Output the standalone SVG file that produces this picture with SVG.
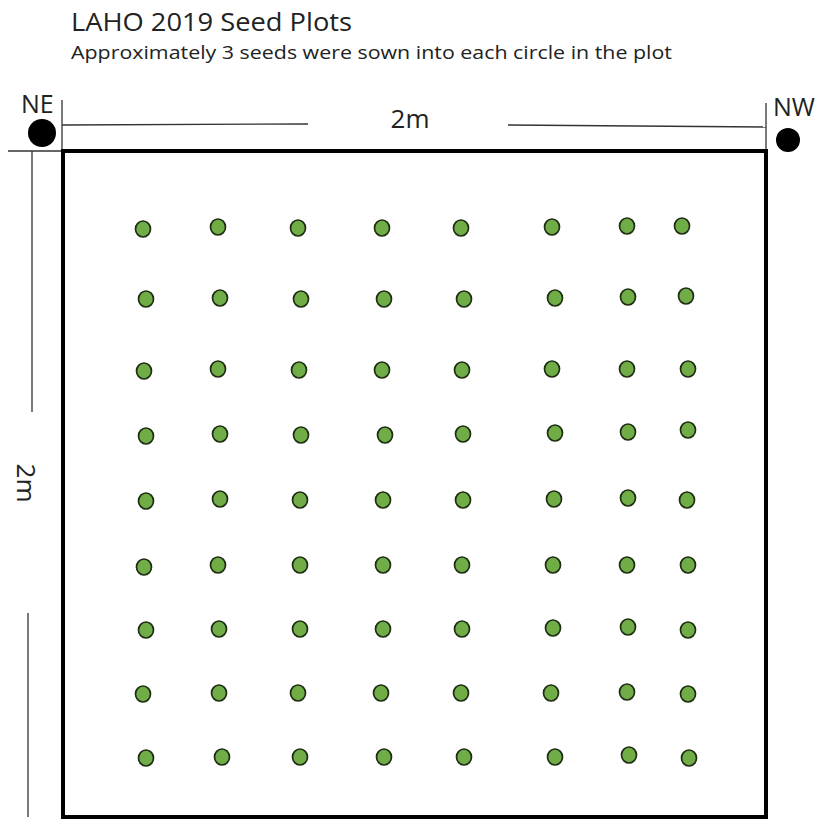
<svg xmlns="http://www.w3.org/2000/svg" width="820" height="820" viewBox="0 0 820 820">
<style>
.t{font-family:"Open Sans","Liberation Sans",sans-serif;fill:#222}
.ln{stroke:#333;stroke-width:1.3;fill:none}
.d{fill:#70ad47;stroke:#1f2d14;stroke-width:1.7}
</style>
<rect width="820" height="820" fill="#fff"/>
<text class="t" x="71" y="31" font-size="26" textLength="281" lengthAdjust="spacingAndGlyphs">LAHO 2019 Seed Plots</text>
<text class="t" x="71" y="59" font-size="18" textLength="601" lengthAdjust="spacingAndGlyphs">Approximately 3 seeds were sown into each circle in the plot</text>
<text class="t" x="21" y="113" font-size="25">NE</text>
<text class="t" x="773" y="116" font-size="25">NW</text>
<circle cx="42" cy="133" r="14" fill="#000"/>
<circle cx="788" cy="140" r="12" fill="#000"/>
<g class="ln">
<line x1="62" y1="100" x2="62" y2="150"/>
<line x1="62" y1="125" x2="308" y2="124"/>
<line x1="508" y1="125" x2="766" y2="127"/>
<line x1="766" y1="103" x2="766" y2="150"/>
<line x1="8" y1="151" x2="62" y2="151"/>
<line x1="32" y1="151" x2="32" y2="412"/>
<line x1="28" y1="613" x2="28" y2="817"/>
</g>
<text class="t" x="410" y="128" font-size="26" text-anchor="middle">2m</text>
<text class="t" font-size="26" text-anchor="middle" transform="translate(17 483) rotate(90)">2m</text>
<rect x="63" y="151" width="703" height="666" fill="none" stroke="#000" stroke-width="4"/>
<g>
<ellipse class="d" cx="143" cy="229" rx="7.5" ry="8"/><ellipse class="d" cx="218" cy="227" rx="7.5" ry="8"/><ellipse class="d" cx="298" cy="228" rx="7.5" ry="8"/><ellipse class="d" cx="382" cy="228" rx="7.5" ry="8"/><ellipse class="d" cx="461" cy="228" rx="7.5" ry="8"/><ellipse class="d" cx="552" cy="227" rx="7.5" ry="8"/><ellipse class="d" cx="627" cy="226" rx="7.5" ry="8"/><ellipse class="d" cx="682" cy="226" rx="7.5" ry="8"/>
<ellipse class="d" cx="146" cy="299" rx="7.5" ry="8"/><ellipse class="d" cx="220" cy="298" rx="7.5" ry="8"/><ellipse class="d" cx="301" cy="299" rx="7.5" ry="8"/><ellipse class="d" cx="384" cy="299" rx="7.5" ry="8"/><ellipse class="d" cx="464" cy="299" rx="7.5" ry="8"/><ellipse class="d" cx="555" cy="298" rx="7.5" ry="8"/><ellipse class="d" cx="628" cy="297" rx="7.5" ry="8"/><ellipse class="d" cx="686" cy="296" rx="7.5" ry="8"/>
<ellipse class="d" cx="144" cy="371" rx="7.5" ry="8"/><ellipse class="d" cx="218" cy="369" rx="7.5" ry="8"/><ellipse class="d" cx="299" cy="370" rx="7.5" ry="8"/><ellipse class="d" cx="382" cy="370" rx="7.5" ry="8"/><ellipse class="d" cx="462" cy="370" rx="7.5" ry="8"/><ellipse class="d" cx="552" cy="369" rx="7.5" ry="8"/><ellipse class="d" cx="627" cy="369" rx="7.5" ry="8"/><ellipse class="d" cx="688" cy="369" rx="7.5" ry="8"/>
<ellipse class="d" cx="146" cy="436" rx="7.5" ry="8"/><ellipse class="d" cx="220" cy="434" rx="7.5" ry="8"/><ellipse class="d" cx="301" cy="435" rx="7.5" ry="8"/><ellipse class="d" cx="385" cy="435" rx="7.5" ry="8"/><ellipse class="d" cx="463" cy="434" rx="7.5" ry="8"/><ellipse class="d" cx="555" cy="433" rx="7.5" ry="8"/><ellipse class="d" cx="628" cy="432" rx="7.5" ry="8"/><ellipse class="d" cx="688" cy="430" rx="7.5" ry="8"/>
<ellipse class="d" cx="146" cy="501" rx="7.5" ry="8"/><ellipse class="d" cx="220" cy="499" rx="7.5" ry="8"/><ellipse class="d" cx="300" cy="500" rx="7.5" ry="8"/><ellipse class="d" cx="383" cy="500" rx="7.5" ry="8"/><ellipse class="d" cx="463" cy="500" rx="7.5" ry="8"/><ellipse class="d" cx="554" cy="499" rx="7.5" ry="8"/><ellipse class="d" cx="628" cy="498" rx="7.5" ry="8"/><ellipse class="d" cx="687" cy="500" rx="7.5" ry="8"/>
<ellipse class="d" cx="144" cy="567" rx="7.5" ry="8"/><ellipse class="d" cx="218" cy="565" rx="7.5" ry="8"/><ellipse class="d" cx="300" cy="565" rx="7.5" ry="8"/><ellipse class="d" cx="383" cy="565" rx="7.5" ry="8"/><ellipse class="d" cx="462" cy="565" rx="7.5" ry="8"/><ellipse class="d" cx="553" cy="565" rx="7.5" ry="8"/><ellipse class="d" cx="627" cy="565" rx="7.5" ry="8"/><ellipse class="d" cx="688" cy="565" rx="7.5" ry="8"/>
<ellipse class="d" cx="146" cy="630" rx="7.5" ry="8"/><ellipse class="d" cx="219" cy="629" rx="7.5" ry="8"/><ellipse class="d" cx="300" cy="629" rx="7.5" ry="8"/><ellipse class="d" cx="383" cy="629" rx="7.5" ry="8"/><ellipse class="d" cx="462" cy="629" rx="7.5" ry="8"/><ellipse class="d" cx="553" cy="628" rx="7.5" ry="8"/><ellipse class="d" cx="628" cy="627" rx="7.5" ry="8"/><ellipse class="d" cx="688" cy="630" rx="7.5" ry="8"/>
<ellipse class="d" cx="143" cy="694" rx="7.5" ry="8"/><ellipse class="d" cx="219" cy="693" rx="7.5" ry="8"/><ellipse class="d" cx="298" cy="693" rx="7.5" ry="8"/><ellipse class="d" cx="381" cy="693" rx="7.5" ry="8"/><ellipse class="d" cx="461" cy="693" rx="7.5" ry="8"/><ellipse class="d" cx="551" cy="693" rx="7.5" ry="8"/><ellipse class="d" cx="627" cy="692" rx="7.5" ry="8"/><ellipse class="d" cx="688" cy="694" rx="7.5" ry="8"/>
<ellipse class="d" cx="146" cy="758" rx="7.5" ry="8"/><ellipse class="d" cx="222" cy="757" rx="7.5" ry="8"/><ellipse class="d" cx="300" cy="757" rx="7.5" ry="8"/><ellipse class="d" cx="384" cy="757" rx="7.5" ry="8"/><ellipse class="d" cx="464" cy="757" rx="7.5" ry="8"/><ellipse class="d" cx="555" cy="757" rx="7.5" ry="8"/><ellipse class="d" cx="629" cy="755" rx="7.5" ry="8"/><ellipse class="d" cx="689" cy="758" rx="7.5" ry="8"/>
</g>
</svg>
